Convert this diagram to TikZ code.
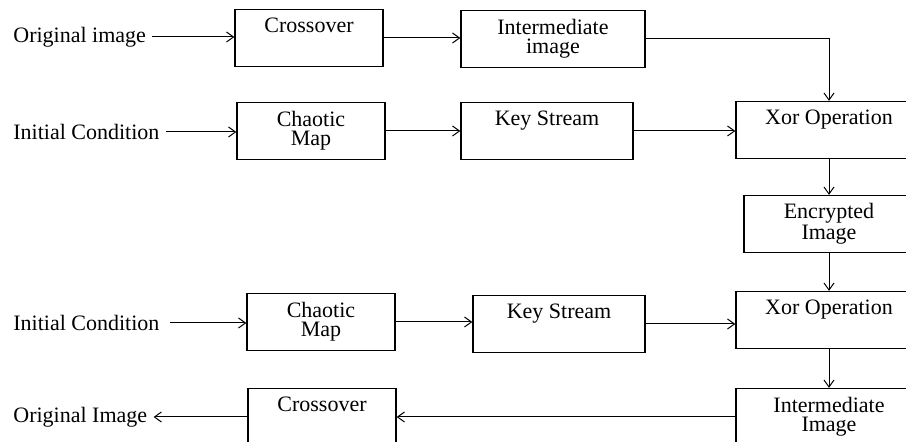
\documentclass[tikz,border=0pt]{standalone}
\usepackage{fontspec}
\setmainfont{Liberation Serif}
\usetikzlibrary{arrows.meta}

\begin{document}
\begin{tikzpicture}[x = 0.5pt, y = -0.5pt,
    font = \fontsize{11}{9.5}\selectfont,
    >= {Straight Barb[length = 3.5pt, width = 5pt]},
    box/.style = {draw, line width = 0.65pt, align = center, minimum height = 28.5pt},
    flow/.style = {->, line width = 0.5pt},
    side/.style = {inner xsep = 3pt, inner ysep = 0pt}]
  \clip (0, 0) rectangle (906, 442);
  % encryption
  \node[side, anchor = west] (orig1) at (7, 37) {Original image};
  \node[side, anchor = west] (init1) at (7, 132) {Initial Condition};
  \node[box, minimum width = 74pt] (cross1) at (309, 38) {Crossover\\\strut};
  \node[box, minimum width = 92pt] (inter1) at (553, 39) {Intermediate\\image};
  \node[box, minimum width = 74pt] (chaos1) at (311, 131) {Chaotic\\Map};
  \node[box, minimum width = 86pt] (key1) at (547, 131) {Key Stream\\\strut};
  \node[box, minimum width = 93pt] (xor1) at (829, 130) {Xor Operation\\\strut};
  \node[box, minimum width = 85pt] (enc) at (829, 224) {Encrypted\\Image};
  \draw[flow] (orig1.east) -- (orig1.east -| cross1.west);
  \draw[flow] (cross1.east) -- (cross1.east -| inter1.west);
  \draw[flow] (inter1.east) -| (xor1.north);
  \draw[flow] (init1.east) -- (init1.east -| chaos1.west);
  \draw[flow] (chaos1.east) -- (chaos1.east -| key1.west);
  \draw[flow] (key1.east) -- (key1.east -| xor1.west);
  \draw[flow] (xor1.south) -- (enc.north);
  % decryption
  \node[side, anchor = west] (init2) at (7, 323) {Initial Condition};
  \node[side, anchor = west] (orig2) at (7, 417) {Original Image};
  \node[box, minimum width = 93pt] (xor2) at (829, 320) {Xor Operation\\\strut};
  \node[box, minimum width = 74pt] (chaos2) at (321, 322) {Chaotic\\Map};
  \node[box, minimum width = 86pt] (key2) at (559, 324) {Key Stream\\\strut};
  \node[box, minimum width = 93pt] (inter2) at (829, 417) {Intermediate\\Image};
  \node[box, minimum width = 74pt] (cross2) at (322, 417) {Crossover\\\strut};
  \draw[flow] (enc.south) -- (xor2.north);
  \draw[flow] ([xshift = 2pt]init2.east) -- (init2.east -| chaos2.west);
  \draw[flow] (chaos2.east) -- (chaos2.east -| key2.west);
  \draw[flow] (key2.east) -- (key2.east -| xor2.west);
  \draw[flow] (xor2.south) -- (inter2.north);
  \draw[flow] (inter2.west) -- (inter2.west -| cross2.east);
  \draw[flow] (cross2.west) -- (orig2.east);
\end{tikzpicture}
\end{document}
